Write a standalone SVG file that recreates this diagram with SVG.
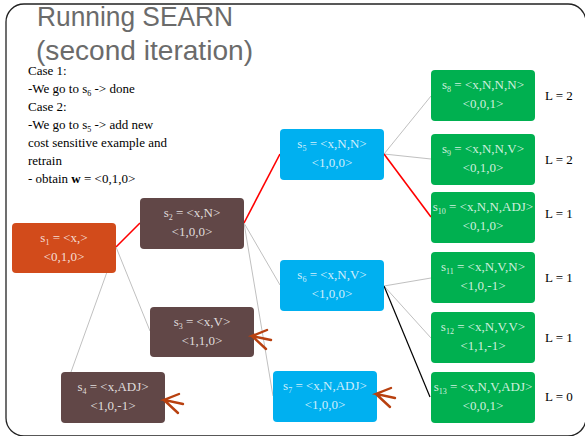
<svg xmlns="http://www.w3.org/2000/svg" width="585" height="436" viewBox="0 0 585 436">
<style>
.t{font-family:"Liberation Serif","Times New Roman",serif;font-size:13px}
.n{font-family:"Liberation Serif","Times New Roman",serif;font-size:13px;fill:#ffffff;fill-opacity:0.82;text-anchor:middle}
.sub{font-size:8px}
.title{font-family:"Liberation Sans",Arial,sans-serif;font-size:27.5px;fill:#6b6b6b}
.g{stroke:#c0c0c0;stroke-width:1;fill:none}
.r{stroke:#ff0000;stroke-width:1.6;fill:none}
.k{stroke:#000000;stroke-width:1.2;fill:none}
.or{fill:#d24b1b}
.br{fill:#614747}
.bl{fill:#00b0f0}
.gr{fill:#00b050}
.arr{stroke:#b8400f;stroke-width:2.4;fill:none;stroke-linecap:round}
</style>
<defs>
<path id="ar" d="M15,-6 L0,0 L19,4 M0,0 L14,13"/>
</defs>
<rect x="6" y="4" width="580" height="432" rx="18" ry="18" fill="none" stroke="#222" stroke-width="1.3"/>
<text class="title" x="37" y="26" textLength="196" lengthAdjust="spacingAndGlyphs">Running SEARN</text>
<text class="title" x="36" y="60" textLength="217" lengthAdjust="spacingAndGlyphs">(second iteration)</text>
<g id="notes" class="t">
<text x="28" y="75">Case 1:</text>
<text x="28" y="93">-We go to s<tspan class="sub" dy="3">6</tspan><tspan dy="-3"> -&gt; done</tspan></text>
<text x="28" y="111">Case 2:</text>
<text x="28" y="129">-We go to s<tspan class="sub" dy="3">5</tspan><tspan dy="-3"> -&gt; add new</tspan></text>
<text x="28" y="147">cost sensitive example and</text>
<text x="28" y="165">retrain</text>
<text x="28" y="183">- obtain <tspan font-weight="bold">w</tspan> = &lt;0,1,0&gt;</text>
</g>
<g id="connectors">
<line class="r" x1="116" y1="247" x2="140" y2="223"/>
<line class="g" x1="116" y1="247" x2="150" y2="331"/>
<line class="g" x1="116" y1="247" x2="71" y2="372"/>
<line class="r" x1="244" y1="223" x2="280" y2="154"/>
<line class="g" x1="244" y1="223" x2="280" y2="285"/>
<line class="g" x1="244" y1="223" x2="273" y2="396"/>
<line class="g" x1="384" y1="154" x2="431" y2="96"/>
<line class="g" x1="384" y1="154" x2="431" y2="159"/>
<line class="r" x1="384" y1="154" x2="431" y2="217"/>
<line class="g" x1="384" y1="286" x2="431" y2="278"/>
<line class="g" x1="384" y1="286" x2="431" y2="338"/>
<line class="k" x1="384" y1="286" x2="430" y2="397"/>
</g>
<g id="s1"><rect class="or" x="12" y="223" width="104" height="50" rx="4"/>
<text class="n" x="64" y="242">s<tspan class="sub" dy="3">1</tspan><tspan dy="-3"> = &lt;x,&gt;</tspan></text>
<text class="n" x="64" y="261">&lt;0,1,0&gt;</text></g>
<g id="s2"><rect class="br" x="140" y="198" width="104" height="51" rx="4"/>
<text class="n" x="192" y="217">s<tspan class="sub" dy="3">2</tspan><tspan dy="-3"> = &lt;x,N&gt;</tspan></text>
<text class="n" x="192" y="236">&lt;1,0,0&gt;</text></g>
<g id="s3"><rect class="br" x="150" y="307" width="104" height="50" rx="4"/>
<text class="n" x="202" y="326">s<tspan class="sub" dy="3">3</tspan><tspan dy="-3"> = &lt;x,V&gt;</tspan></text>
<text class="n" x="202" y="345">&lt;1,1,0&gt;</text></g>
<g id="s4"><rect class="br" x="61" y="372" width="104" height="51" rx="4"/>
<text class="n" x="113" y="391">s<tspan class="sub" dy="3">4</tspan><tspan dy="-3"> = &lt;x,ADJ&gt;</tspan></text>
<text class="n" x="113" y="410">&lt;1,0,-1&gt;</text></g>
<g id="s5"><rect class="bl" x="280" y="129" width="104" height="51" rx="4"/>
<text class="n" x="332" y="148">s<tspan class="sub" dy="3">5</tspan><tspan dy="-3"> = &lt;x,N,N&gt;</tspan></text>
<text class="n" x="332" y="167">&lt;1,0,0&gt;</text></g>
<g id="s6"><rect class="bl" x="280" y="260" width="104" height="51" rx="4"/>
<text class="n" x="332" y="279">s<tspan class="sub" dy="3">6</tspan><tspan dy="-3"> = &lt;x,N,V&gt;</tspan></text>
<text class="n" x="332" y="298">&lt;1,0,0&gt;</text></g>
<g id="s7"><rect class="bl" x="273" y="371" width="104" height="51" rx="4"/>
<text class="n" x="325" y="390">s<tspan class="sub" dy="3">7</tspan><tspan dy="-3"> = &lt;x,N,ADJ&gt;</tspan></text>
<text class="n" x="325" y="409">&lt;1,0,0&gt;</text></g>
<g id="s8"><rect class="gr" x="431" y="70" width="104" height="51" rx="4"/>
<text class="n" x="483" y="89">s<tspan class="sub" dy="3">8</tspan><tspan dy="-3"> = &lt;x,N,N,N&gt;</tspan></text>
<text class="n" x="483" y="108">&lt;0,0,1&gt;</text></g>
<g id="s9"><rect class="gr" x="431" y="134" width="104" height="51" rx="4"/>
<text class="n" x="483" y="153">s<tspan class="sub" dy="3">9</tspan><tspan dy="-3"> = &lt;x,N,N,V&gt;</tspan></text>
<text class="n" x="483" y="172">&lt;0,1,0&gt;</text></g>
<g id="s10"><rect class="gr" x="431" y="192" width="104" height="51" rx="4"/>
<text class="n" x="483" y="211">s<tspan class="sub" dy="3">10</tspan><tspan dy="-3"> = &lt;x,N,N,ADJ&gt;</tspan></text>
<text class="n" x="483" y="230">&lt;0,1,0&gt;</text></g>
<g id="s11"><rect class="gr" x="431" y="252" width="104" height="51" rx="4"/>
<text class="n" x="483" y="271">s<tspan class="sub" dy="3">11</tspan><tspan dy="-3"> = &lt;x,N,V,N&gt;</tspan></text>
<text class="n" x="483" y="290">&lt;1,0,-1&gt;</text></g>
<g id="s12"><rect class="gr" x="431" y="312" width="104" height="51" rx="4"/>
<text class="n" x="483" y="331">s<tspan class="sub" dy="3">12</tspan><tspan dy="-3"> = &lt;x,N,V,V&gt;</tspan></text>
<text class="n" x="483" y="350">&lt;1,1,-1&gt;</text></g>
<g id="s13"><rect class="gr" x="431" y="372" width="104" height="51" rx="4"/>
<text class="n" x="483" y="391">s<tspan class="sub" dy="3">13</tspan><tspan dy="-3"> = &lt;x,N,V,ADJ&gt;</tspan></text>
<text class="n" x="483" y="410">&lt;0,0,1&gt;</text></g>
<g id="losses" class="t">
<text x="545" y="100">L = 2</text>
<text x="545" y="164">L = 2</text>
<text x="545" y="218">L = 1</text>
<text x="545" y="282">L = 1</text>
<text x="545" y="342">L = 1</text>
<text x="545" y="401">L = 0</text>
</g>
<g id="arrows" class="arr">
<use href="#ar" x="252" y="336"/>
<use href="#ar" x="164" y="400"/>
<use href="#ar" x="376" y="394"/>
</g>
</svg>
